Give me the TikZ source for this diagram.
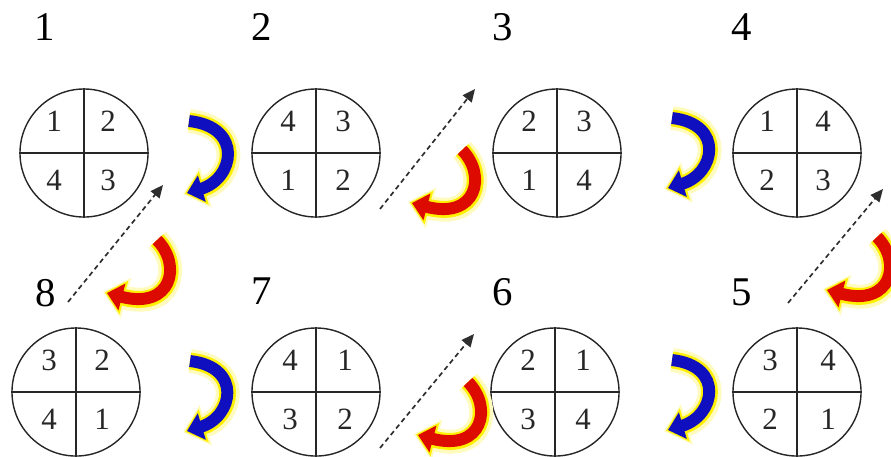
\documentclass[tikz,border=0pt]{standalone}
\usepackage{fontspec}
\setmainfont{Liberation Serif}
\usetikzlibrary{arrows.meta, positioning}
\definecolor{RimInk}{HTML}{262626}
\definecolor{DashInk}{HTML}{2E2E2E}
\definecolor{TurnBlue}{HTML}{0F0FC0}
\definecolor{TurnRed}{HTML}{DD0A00}
\definecolor{GlowYellow}{HTML}{FFF000}

\begin{document}
\begin{tikzpicture}[x=0.025cm, y=-0.025cm,
  disc/.style={circle, draw=RimInk, line width=1pt, minimum size=3.2cm, inner sep=0pt},
  rim/.style={draw=RimInk, line width=1pt},
  quad/.style={font=\fontsize{22}{22}\selectfont, text=RimInk, inner sep=0pt},
  numlabel/.style={font=\fontsize{29}{29}\selectfont, inner sep=0pt},
  turnglow/.style={
    preaction={draw=GlowYellow!25, line width=17pt, shorten >=-3pt, -{Triangle[width=29pt,length=17pt]}},
    preaction={draw=GlowYellow, line width=12pt, shorten >=-1.5pt, -{Triangle[width=24pt,length=14pt]}}},
  blueturn/.style={turnglow, draw=TurnBlue, line width=8.5pt, -{Triangle[width=19pt,length=11pt]}},
  redturn/.style={turnglow, draw=TurnRed, line width=8.5pt, -{Triangle[width=19pt,length=11pt]}},
  dashline/.style={draw=DashInk, line width=1.2pt, dash pattern=on 3.5pt off 2.5pt, -{Triangle[width=8pt,length=9pt]}}]
\useasboundingbox (0,0) rectangle (891,456);

% step numbers
\node[numlabel] (n1) at (45,27) {1};
\node[numlabel] (n2) at (262,27) {2};
\node[numlabel] (n3) at (503,27) {3};
\node[numlabel] (n4) at (742,27) {4};
\node[numlabel] (n8) at (46,293) {8};
\node[numlabel] (n7) at (262,291) {7};
\node[numlabel] (n6) at (503,292) {6};
\node[numlabel] (n5) at (742,292) {5};

% top row
\node[disc] (c1) at (84,153) {};
\draw[rim] (c1.north) -- (c1.south) (c1.west) -- (c1.east);
\path (c1) ++(-30,-32) node[quad] (c1a) {1} (c1) ++(24,-32) node[quad] (c1b) {2}
  (c1) ++(-30,27) node[quad] (c1c) {4} (c1) ++(24,27) node[quad] (c1d) {3};

\node[disc] (c2) at (316,153) {};
\draw[rim] (c2.north) -- (c2.south) (c2.west) -- (c2.east);
\path (c2) ++(-28,-32) node[quad] (c2a) {4} (c2) ++(27,-32) node[quad] (c2b) {3}
  (c2) ++(-28,27) node[quad] (c2c) {1} (c2) ++(27,27) node[quad] (c2d) {2};

\node[disc] (c3) at (557,153) {};
\draw[rim] (c3.north) -- (c3.south) (c3.west) -- (c3.east);
\path (c3) ++(-28,-32) node[quad] (c3a) {2} (c3) ++(27,-32) node[quad] (c3b) {3}
  (c3) ++(-28,27) node[quad] (c3c) {1} (c3) ++(27,27) node[quad] (c3d) {4};

\node[disc] (c4) at (797,153) {};
\draw[rim] (c4.north) -- (c4.south) (c4.west) -- (c4.east);
\path (c4) ++(-30,-32) node[quad] (c4a) {1} (c4) ++(26,-32) node[quad] (c4b) {4}
  (c4) ++(-30,27) node[quad] (c4c) {2} (c4) ++(26,27) node[quad] (c4d) {3};

% bottom row
\node[disc] (c8) at (76,392) {};
\draw[rim] (c8.north) -- (c8.south) (c8.west) -- (c8.east);
\path (c8) ++(-27,-32) node[quad] (c8a) {3} (c8) ++(26,-32) node[quad] (c8b) {2}
  (c8) ++(-27,27) node[quad] (c8c) {4} (c8) ++(26,27) node[quad] (c8d) {1};

\node[disc] (c7) at (316,392) {};
\draw[rim] (c7.north) -- (c7.south) (c7.west) -- (c7.east);
\path (c7) ++(-26,-32) node[quad] (c7a) {4} (c7) ++(29,-32) node[quad] (c7b) {1}
  (c7) ++(-26,27) node[quad] (c7c) {3} (c7) ++(29,27) node[quad] (c7d) {2};

\node[disc] (c6) at (555,392) {};
\draw[rim] (c6.north) -- (c6.south) (c6.west) -- (c6.east);
\path (c6) ++(-27,-32) node[quad] (c6a) {2} (c6) ++(28,-32) node[quad] (c6b) {1}
  (c6) ++(-27,27) node[quad] (c6c) {3} (c6) ++(28,27) node[quad] (c6d) {4};

\node[disc] (c5) at (797,392) {};
\draw[rim] (c5.north) -- (c5.south) (c5.west) -- (c5.east);
\path (c5) ++(-27,-32) node[quad] (c5a) {3} (c5) ++(31,-32) node[quad] (c5b) {4}
  (c5) ++(-27,27) node[quad] (c5c) {2} (c5) ++(31,27) node[quad] (c5d) {1};

% turn arrows
\draw[blueturn, shift={(189,121)}] (0,0) .. controls (55,6) and (45,58) .. (-2,72);
\draw[blueturn, shift={(672,118)}] (0,0) .. controls (53,6) and (43,56) .. (-4,70);
\draw[blueturn, shift={(190,361)}] (0,0) .. controls (53,6) and (43,56) .. (-3,70);
\draw[blueturn, shift={(672,360)}] (0,0) .. controls (53,6) and (43,56) .. (-4,70);

\draw[redturn, shift={(157,240)}] (0,0) .. controls (25,25) and (15,70) .. (-50,53);
\draw[redturn, shift={(462,150)}] (0,0) .. controls (25,25) and (15,70) .. (-50,53);
\draw[redturn, shift={(468,382)}] (0,0) .. controls (25,25) and (15,70) .. (-50,53);
\draw[redturn, shift={(877,237)}] (0,0) .. controls (25,25) and (15,70) .. (-50,53);

% dashed moves
\coordinate (d1s) at (68,302);  \coordinate (d1e) at (163,185);
\coordinate (d2s) at (380,209); \coordinate (d2e) at (475,89);
\coordinate (d3s) at (380,448); \coordinate (d3e) at (474,334);
\coordinate (d4s) at (788,303); \coordinate (d4e) at (883,189);
\draw[dashline] (d1s) -- (d1e);
\draw[dashline] (d2s) -- (d2e);
\draw[dashline] (d3s) -- (d3e);
\draw[dashline] (d4s) -- (d4e);
\end{tikzpicture}
\end{document}
